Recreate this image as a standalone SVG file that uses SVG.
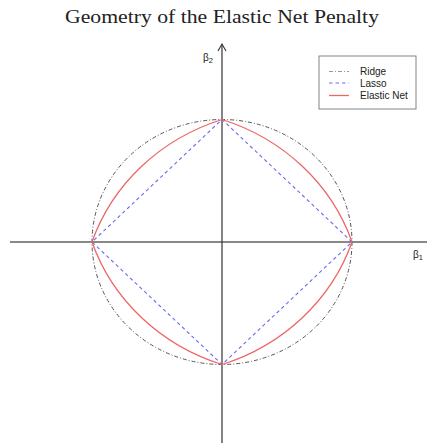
<svg xmlns="http://www.w3.org/2000/svg" width="428" height="443" viewBox="0 0 428 443">
<style>
.title{font-family:"Liberation Serif","DejaVu Serif",serif;font-size:19px;fill:#222}
.lbl{font-family:"Liberation Sans",Arial,sans-serif;font-size:10px;fill:#222}
.ridge{fill:none;stroke:#555;stroke-width:1;stroke-dasharray:4 2 1 2}
.lasso{fill:none;stroke:#6a6af0;stroke-width:1.1;stroke-dasharray:3.5 3}
.enet{fill:none;stroke:#ee6666;stroke-width:1.3}
</style>
<rect width="428" height="443" fill="#fff"/>
<text class="title" x="222" y="23" text-anchor="middle" textLength="314" lengthAdjust="spacingAndGlyphs">Geometry of the Elastic Net Penalty</text>
<g id="axes">
<line x1="10" y1="242" x2="427" y2="242" stroke="#888" stroke-width="2"/>
<line x1="222" y1="44" x2="222" y2="443" stroke="#333" stroke-width="1.2"/>
<polyline points="218,51 222,44 226,51" fill="none" stroke="#333" stroke-width="1.1"/>
<text class="lbl" x="203" y="61" font-size="10.5">β<tspan font-size="7.5" dy="1.5">2</tspan></text>
<text class="lbl" x="413" y="258" font-size="10.5">β<tspan font-size="7.5" dy="1.5">1</tspan></text>
</g>
<g id="ridge">
<ellipse class="ridge" cx="222" cy="242" rx="130" ry="122.5"/>
</g>
<g id="lasso">
<polygon class="lasso" points="352,242 222,119.5 92,242 222,364.5"/>
</g>
<g id="elastic-net">
<path class="enet" d="M352,242 A205.5,193.7 0 0 0 222,119.5 A205.5,193.7 0 0 0 92,242 A205.5,193.7 0 0 0 222,364.5 A205.5,193.7 0 0 0 352,242 Z"/>
</g>
<g id="legend">
<rect x="319" y="56" width="97" height="53" fill="#fff" stroke="#777" stroke-width="0.9"/>
<line class="ridge" x1="329" y1="71.5" x2="349" y2="71.5" style="stroke:#999"/>
<line class="lasso" x1="329" y1="83" x2="349" y2="83"/>
<line class="enet" x1="329" y1="95.5" x2="349" y2="95.5"/>
<text class="lbl" x="360" y="75">Ridge</text>
<text class="lbl" x="360" y="86.5">Lasso</text>
<text class="lbl" x="360" y="99">Elastic Net</text>
</g>
</svg>
